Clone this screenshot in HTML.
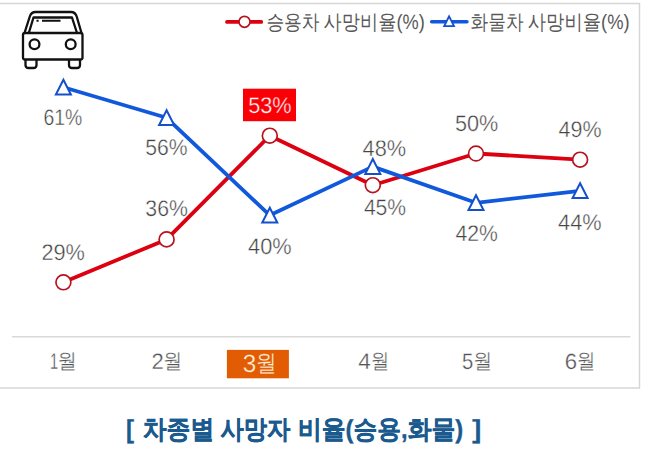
<!DOCTYPE html>
<html><head><meta charset="utf-8">
<style>
html,body{margin:0;padding:0;background:#fff;}
body{width:650px;height:455px;overflow:hidden;position:relative;font-family:"Liberation Sans",sans-serif;}
svg{position:absolute;left:0;top:0;}
text{font-family:"Liberation Sans",sans-serif;text-rendering:geometricPrecision;}
.lbl{fill:#444444;stroke:#fff;stroke-width:0.4px;}
.leg{fill:#595959;}
.ax{fill:#555;stroke:#fff;stroke-width:0.3px;}
.cap{font-weight:bold;fill:#1b5a8e;stroke:#1b5a8e;stroke-width:0.35px;}
</style></head>
<body>
<svg width="650" height="455" viewBox="0 0 650 455">
  <rect x="-5" y="3.5" width="644.5" height="384.5" fill="#fff" stroke="#d6d6d6" stroke-width="1.5"/>
  <line x1="12" y1="336.8" x2="630.5" y2="336.8" stroke="#d9d9d9" stroke-width="1.6"/>
  <g fill="none" stroke="#111" stroke-width="2.3" stroke-linejoin="round">
    <path d="M24.5 33 L29.8 16.5 Q31.3 12 35.5 12 L71 12 Q75.2 12 76.7 16.5 L81.5 33"/>
    <path d="M28.8 33 L33.5 17.5 L72 17.5 L77 33"/>
    <rect x="23" y="33" width="59.5" height="26.5" rx="2"/>
    <circle cx="34.5" cy="44.3" r="4.9"/>
    <circle cx="70.7" cy="44.3" r="4.9"/>
    <path d="M25.5 59.5 L25.5 65 Q25.5 68 28.5 68 L33.5 68 Q36.5 68 36.5 65 L36.5 59.5"/>
    <path d="M69 59.5 L69 65 Q69 68 72 68 L77 68 Q80 68 80 65 L80 59.5"/>
    <path d="M36.5 20.8 L38.6 20.8 M42 20.8 L60.5 20.8" stroke-width="2"/>
  </g>
  <line x1="227" y1="21.9" x2="261.3" y2="21.9" stroke="#dc0010" stroke-width="3.7" stroke-linecap="round"/>
  <circle cx="244.5" cy="21.8" r="5.5" fill="#fff" stroke="#b8121f" stroke-width="1.7"/>
  <text class="leg" font-size="20.80" transform="translate(266.40 29.40) scale(0.8521 1)">승용차</text>
  <text class="leg" font-size="20.80" transform="translate(323.57 29.40) scale(0.8754 1)">사망비율(%)</text>
  <line x1="431.7" y1="21.8" x2="466.9" y2="21.8" stroke="#1159dc" stroke-width="3.6" stroke-linecap="round"/>
  <path d="M449.1 16.3 L454 26.2 L444.2 26.2 Z" fill="#fff" stroke="#1450cc" stroke-width="1.8"/>
  <text class="leg" font-size="20.80" transform="translate(470.58 29.40) scale(0.8493 1)">화물차</text>
  <text class="leg" font-size="20.80" transform="translate(527.67 29.40) scale(0.8825 1)">사망비율(%)</text>
  <polyline points="63.4,282.3 166.6,239.4 269.8,135.7 372.8,185.2 476.0,153.5 580.1,159.7" fill="none" stroke="#dc0010" stroke-width="3.8" stroke-linejoin="round"/>
  <polyline points="63.4,87.3 166.6,117.8 269.8,215.3 372.8,166.6 476.0,202.8 580.1,190.8" fill="none" stroke="#1159dc" stroke-width="3.8" stroke-linejoin="round"/>
  <g fill="#fff" stroke="#b8121f" stroke-width="1.7">
    <circle cx="63.4" cy="282.3" r="7.45"/>
    <circle cx="166.6" cy="239.4" r="7.45"/>
    <circle cx="269.8" cy="135.7" r="7.45"/>
    <circle cx="372.8" cy="185.2" r="7.45"/>
    <circle cx="476.0" cy="153.5" r="7.45"/>
    <circle cx="580.1" cy="159.7" r="7.45"/>
  </g>
  <g fill="#fff" stroke="#1450cc" stroke-width="2" stroke-linejoin="miter">
    <path d="M63.4 79.7 L70.9 94.6 L55.9 94.6 Z"/>
    <path d="M166.6 110.2 L174.1 125.1 L159.1 125.1 Z"/>
    <path d="M269.8 207.7 L277.3 222.6 L262.3 222.6 Z"/>
    <path d="M372.8 159.0 L380.3 173.9 L365.3 173.9 Z"/>
    <path d="M476.0 195.2 L483.5 210.1 L468.5 210.1 Z"/>
    <path d="M580.1 183.2 L587.6 198.1 L572.6 198.1 Z"/>
  </g>
  <text class="lbl" font-size="22.60" transform="translate(43.47 124.70) scale(0.8580 1)">61%</text>
  <text class="lbl" font-size="22.60" transform="translate(145.15 155.10) scale(0.9370 1)">56%</text>
  <text class="lbl" font-size="22.60" transform="translate(248.07 253.50) scale(0.9615 1)">40%</text>
  <text class="lbl" font-size="22.60" transform="translate(362.56 156.10) scale(0.9638 1)">48%</text>
  <text class="lbl" font-size="22.60" transform="translate(455.38 240.50) scale(0.9388 1)">42%</text>
  <text class="lbl" font-size="22.60" transform="translate(558.07 229.60) scale(0.9615 1)">44%</text>
  <text class="lbl" font-size="22.60" transform="translate(41.44 259.90) scale(0.9620 1)">29%</text>
  <text class="lbl" font-size="22.60" transform="translate(145.35 216.20) scale(0.9416 1)">36%</text>
  <text class="lbl" font-size="22.60" transform="translate(363.88 214.60) scale(0.9342 1)">45%</text>
  <text class="lbl" font-size="22.60" transform="translate(454.93 131.30) scale(0.9577 1)">50%</text>
  <text class="lbl" font-size="22.60" transform="translate(558.57 136.80) scale(0.9501 1)">49%</text>
  <rect x="243" y="88.7" width="53" height="32.5" fill="#fa0006"/>
  <text class="lbl" font-size="22.60" transform="translate(248.13 113.40) scale(0.9623 1)" style="fill:#fff;stroke:#fa0006">53%</text>
  <rect x="226.9" y="349.9" width="62" height="28.4" fill="#e15c02"/>
  <text class="ax" font-size="22.72" transform="translate(49.93 369.40) scale(0.6399 1)">1</text>
  <text class="ax" font-size="21.12" transform="translate(57.52 368.17) scale(0.9193 1)">월</text>
  <text class="ax" font-size="22.29" transform="translate(151.62 369.40) scale(0.9898 1)">2</text>
  <text class="ax" font-size="21.12" transform="translate(163.15 368.17) scale(0.9014 1)">월</text>
  <text class="ax" font-size="22.72" transform="translate(358.35 369.40) scale(0.9904 1)">4</text>
  <text class="ax" font-size="21.12" transform="translate(370.68 368.17) scale(0.8835 1)">월</text>
  <text class="ax" font-size="22.50" transform="translate(461.99 369.25) scale(0.9014 1)">5</text>
  <text class="ax" font-size="21.12" transform="translate(473.15 368.17) scale(0.9014 1)">월</text>
  <text class="ax" font-size="22.08" transform="translate(564.82 369.25) scale(1.0045 1)">6</text>
  <text class="ax" font-size="21.12" transform="translate(576.67 368.17) scale(0.8895 1)">월</text>
  <text class="ax" font-size="25.05" transform="translate(242.83 372.33) scale(0.9700 1)" style="fill:#fff3dc;stroke:#e15c02">3</text>
  <text class="ax" font-size="23.54" transform="translate(256.01 371.18) scale(0.8782 1)" style="fill:#fff3dc;stroke:#e15c02">월</text>
  <text class="cap" font-size="26.00" transform="translate(126.12 438.30) scale(0.9231 1)">[</text>
  <text class="cap" font-size="26.00" transform="translate(142.75 438.30) scale(0.9161 1)">차종별</text>
  <text class="cap" font-size="26.00" transform="translate(220.49 438.30) scale(0.8957 1)">사망자</text>
  <text class="cap" font-size="26.00" transform="translate(298.00 438.30) scale(0.9145 1)">비율(승용,화물)</text>
  <text class="cap" font-size="26.00" transform="translate(472.34 438.30) scale(1.0385 1)">]</text>
</svg>
</body></html>
